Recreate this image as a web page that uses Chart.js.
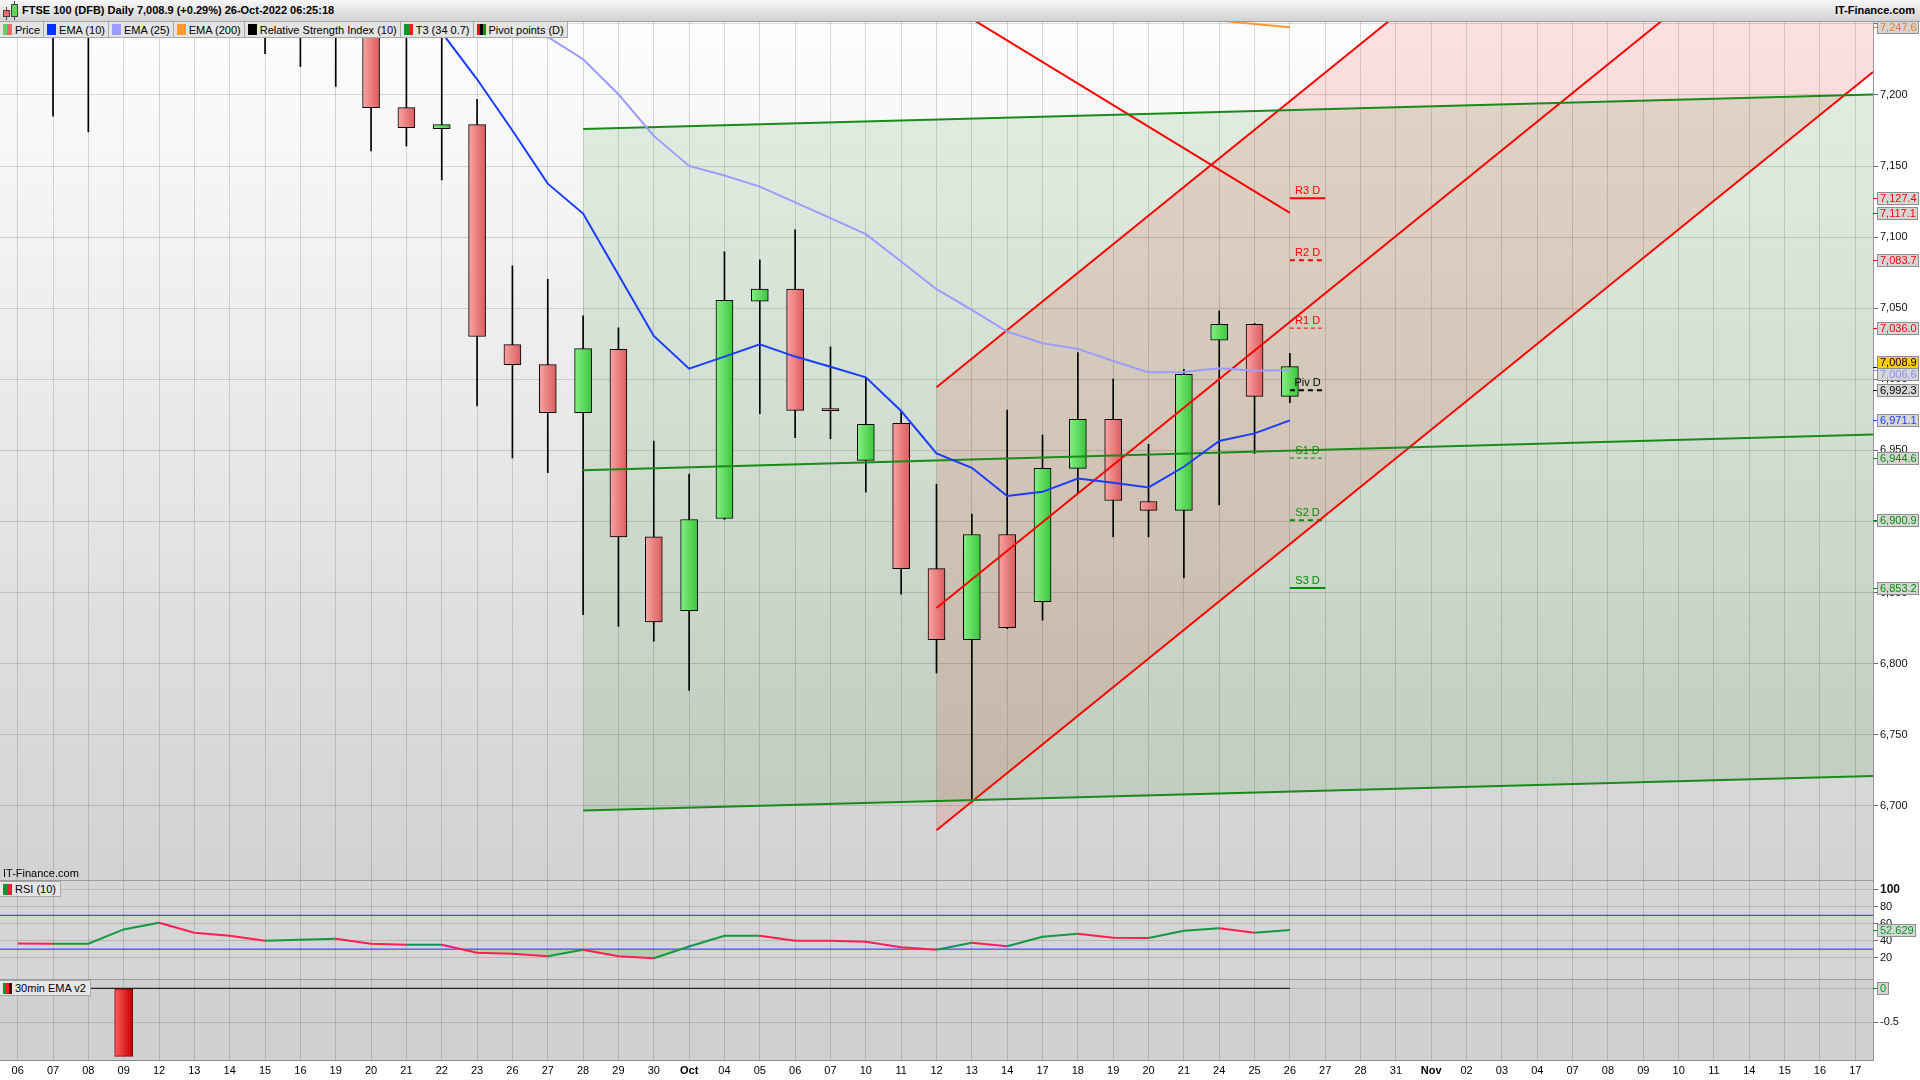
<!DOCTYPE html>
<html lang="en">
<head>
<meta charset="utf-8">
<title>FTSE 100 (DFB) Daily</title>
<script src="https://cdn.jsdelivr.net/npm/chart.js@4.4.1/dist/chart.umd.min.js"></script>
<style>
  html, body { margin: 0; padding: 0; }
  body {
    width: 1920px; height: 1080px; overflow: hidden; position: relative; background: #fff;
    font-family: "Liberation Sans", Arial, sans-serif; font-size: 11px; color: #000;
  }
  canvas { position: absolute; left: 0; }
  #chartMain { top: 22px; }
  #chartRsi { top: 881px; }
  #chartEma { top: 980px; }

  .title-bar {
    position: absolute; left: 0; top: 0; width: 1920px; height: 22px; box-sizing: border-box;
    background: linear-gradient(#f8f8f8, #d2d2d2); border-bottom: 1px solid #9c9c9c; z-index: 3;
  }
  .title-bar .name { position: absolute; left: 22px; top: 4px; font-weight: bold; }
  .title-bar .site { position: absolute; right: 5px; top: 4px; font-weight: bold; }
  .mini { position: absolute; box-sizing: border-box; border: 1px solid #444; }
  .mini-wick { position: absolute; width: 1px; background: #444; }

  .legend-row {
    position: absolute; left: 0; top: 21px; height: 17px; display: flex; box-sizing: border-box;
    background: #e4e4e4; border: 1px solid #a8a8a8; border-left: none; z-index: 3;
  }
  .legend-row .item { display: flex; align-items: center; padding: 0 3px; border-right: 1px solid #a8a8a8; white-space: nowrap; }
  .legend-row .item:last-child { border-right: none; }
  .sw { display: inline-block; width: 9px; height: 11px; margin-right: 3px; }

  .panel-label {
    position: absolute; left: 0; height: 16px; box-sizing: border-box; display: flex; align-items: center;
    background: #e6e6e6; border: 1px solid #a8a8a8; border-left: none; padding: 0 4px 0 3px; z-index: 3;
  }
  .site-note { position: absolute; left: 3px; top: 867px; z-index: 3; }
  .sep { position: absolute; left: 0; width: 1873px; height: 1px; background: #9a9a9a; z-index: 2; }
</style>
</head>
<body>

<div class="title-bar">
  <div class="mini-wick" style="left:6px;top:7px;height:13px"></div>
  <div class="mini" style="left:3px;top:10px;width:7px;height:7px;background:#e86a6a"></div>
  <div class="mini-wick" style="left:14px;top:1px;height:19px"></div>
  <div class="mini" style="left:11px;top:4px;width:7px;height:13px;background:#5ad85a"></div>
  <span class="name">FTSE 100 (DFB) Daily 7,008.9 (+0.29%) 26-Oct-2022 06:25:18</span>
  <span class="site">IT-Finance.com</span>
</div>

<div class="legend-row">
  <span class="item"><span class="sw" style="background:linear-gradient(90deg,#66cc66 50%,#e86a6a 50%)"></span>Price</span>
  <span class="item"><span class="sw" style="background:#0033ff"></span>EMA (10)</span>
  <span class="item"><span class="sw" style="background:#9c9cff"></span>EMA (25)</span>
  <span class="item"><span class="sw" style="background:#ff9933"></span>EMA (200)</span>
  <span class="item"><span class="sw" style="background:#000"></span>Relative Strength Index (10)</span>
  <span class="item"><span class="sw" style="background:linear-gradient(90deg,#0a9a2a 50%,#ff1a1a 50%)"></span>T3 (34 0.7)</span>
  <span class="item"><span class="sw" style="background:linear-gradient(90deg,#ff0000 33%,#000 33%,#000 66%,#009900 66%)"></span>Pivot points (D)</span>
</div>

<canvas id="chartMain" width="1920" height="859"></canvas>
<canvas id="chartRsi" width="1920" height="99"></canvas>
<canvas id="chartEma" width="1920" height="100"></canvas>

<div class="site-note">IT-Finance.com</div>
<div class="sep" style="top:880px"></div>
<div class="sep" style="top:979px"></div>
<div class="panel-label" style="top:881px"><span class="sw" style="background:linear-gradient(90deg,#0a9a2a 50%,#ff1a3c 50%)"></span>RSI (10)</div>
<div class="panel-label" style="top:980px"><span class="sw" style="background:linear-gradient(90deg,#0a9a2a 33%,#ff1a1a 33%,#ff1a1a 66%,#400 66%)"></span>30min EMA v2</div>

<script>
const FONT = '"Liberation Sans", Arial, sans-serif';

// ---- dates on the x axis (one slot per trading day, Sep 06 -> Nov 17) ----
const dayLabels = ['06','07','08','09','12','13','14','15','16','19','20','21','22','23','26','27','28','29','30','Oct',
  '04','05','06','07','10','11','12','13','14','17','18','19','20','21','24','25','26','27','28','31','Nov',
  '02','03','04','07','08','09','10','11','14','15','16','17'];

// ---- daily candles, Sep 06 -> Oct 26 ----
const opens = [7290, 7275, 7262, 7290, 7350, 7470, 7385, 7280, 7285, 7265, 7262,
  7191.1, 7176.3, 7179.1, 7024.4, 7010.4, 6976.6, 7021.1, 6889.2, 6837.4, 6902.1,
  7054.9, 7063.4, 6978.6, 6943.0, 6969.0, 6866.9, 6816.9, 6890.9, 6843.7, 6937.4,
  6971.9, 6914.1, 6907.8, 7027.5, 7038.7, 6988.0];
const highs = [7320, 7300, 7290, 7360, 7480, 7480, 7390, 7300, 7290, 7275, 7270,
  7255, 7256, 7197.0, 7079.8, 7070.4, 7044.6, 7036.2, 6956.6, 6933.4, 7089.7,
  7084.0, 7105.2, 7022.8, 7000.7, 6977.0, 6926.3, 6905.2, 6978.4, 6960.8, 7018.8,
  7000.3, 6954.3, 7007.1, 7048.1, 7039.4, 7018.3];
const lows = [7262, 7185, 7174, 7270, 7340, 7370, 7270, 7229, 7220, 7206, 7160.6,
  7164.1, 7140.2, 6981.3, 6944.7, 6934.4, 6834.5, 6826.3, 6815.8, 6781.3, 6901.4,
  6975.8, 6958.9, 6958.2, 6920.7, 6848.9, 6793.5, 6702.6, 6824.7, 6830.6, 6919.8,
  6889.2, 6889.2, 6860.4, 6911.8, 6947.9, 6983.6];
const closes = [7275, 7262, 7280, 7350, 7470, 7385, 7280, 7285, 7265, 7262, 7191.1,
  7177.0, 7179.1, 7030.1, 7010.4, 6976.6, 7021.6, 6889.2, 6829.4, 6901.4, 7055.6,
  7063.4, 6978.2, 6978.0, 6968.3, 6866.9, 6816.9, 6890.9, 6825.4, 6937.4, 6971.9,
  6914.8, 6907.8, 7003.5, 7038.7, 6988.0, 7008.9];

// ---- moving averages (null = off the top of the chart) ----
const emaTen = [null, null, null, null, null, null, null, null, null, null, null,
  7282, 7244, 7211, 7175, 7137.6, 7116.6, 7073.5, 7030.5, 7007.5, 7016.0,
  7024.7, 7016.0, 7008.9, 7001.4, 6977.7, 6947.9, 6937.8, 6917.9, 6920.9, 6930.3,
  6927.3, 6924.0, 6938.5, 6956.6, 6962.0, 6971.1];
const emaTwentyFive = [null, null, null, null, null, null, null, null, null, null, null,
  null, null, 7274, 7257, 7240.8, 7225.1, 7200.5, 7171.2, 7150.1, 7143.3,
  7135.5, 7124.4, 7113.4, 7102.1, 7082.9, 7063.4, 7048.8, 7033.6, 7025.4, 7021.4,
  7012.9, 7004.9, 7005.2, 7007.8, 7006.1, 7006.6];
const emaTwoHundred = [null, null, null, null, null, null, null, null, null, null, null,
  null, null, null, null, null, null, null, null, null, null,
  null, null, null, null, null, null, null, null, null, null,
  null, null, null, 7252.3, 7249.9, 7247.6];

// ---- drawn trend lines: [day index, price] end points ----
const greenUpper = [[16, 7176.0], [52.5, 7200.3]];
const greenMiddle = [[16, 6936.0], [52.5, 6961.2]];
const greenLower = [[16, 6696.8], [52.5, 6721.0]];
const redUpper = [[26, 6994.4], [52.5, 7527.6]];
const redMiddle = [[26, 6839.2], [52.5, 7372.4]];
const redLower = [[26, 6682.9], [52.5, 7216.1]];
const redFalling = [[27, 7253.5], [36, 7117.1]];

// ---- daily pivot points ----
const pivotNames = ['R3 D', 'R2 D', 'R1 D', 'Piv D', 'S1 D', 'S2 D', 'S3 D'];
const pivotLevels = [7127.4, 7083.7, 7036.0, 6992.3, 6944.6, 6900.9, 6853.2];
const pivotSpan = [36, 37];

// ---- lower panels ----
const rsiValues = [36.6, 36.3, 36.4, 53.3, 61.2, 49.3, 45.8, 39.9, 41.0, 42.2,
  36.3, 35.1, 35.2, 25.7, 24.5, 21.7, 29.2, 21.7, 19.3, 33.1,
  45.8, 45.9, 39.9, 39.8, 38.7, 32.3, 29.2, 37.5, 33.5, 44.6,
  48.2, 43.4, 43.3, 51.7, 54.8, 49.3, 52.629];
const rsiBands = [70, 30];
const emaSignal = [0, 0, 0, -1, 0, 0, 0, 0, 0, 0, 0, 0, 0, 0, 0, 0, 0, 0, 0, 0,
  0, 0, 0, 0, 0, 0, 0, 0, 0, 0, 0, 0, 0, 0, 0, 0, 0];

// ---- axis ticks ----
const priceTicks = [6700, 6750, 6800, 6850, 6900, 6950, 7000, 7050, 7100, 7150, 7200, 7250];
const rsiTicks = [20, 40, 60, 80, 100];
const signalTicks = [0, -0.5];

const X_MIN = -0.5, X_MAX = 52.5;
const GRID = 'rgba(0,0,0,0.14)';
const AXIS_W = 47;

const toPts = arr => arr.map((v, i) => ({ x: i, y: v }));
const toSeg = pairs => pairs.map(([x, y]) => ({ x, y }));
const fmt1 = v => v.toLocaleString('en-US', { minimumFractionDigits: 1, maximumFractionDigits: 1 });

// horizontal gradient for a bar centred on its day slot
function barGradient(c, light, dark, half) {
  const chart = c.chart;
  if (!c.raw || !chart.scales || !chart.scales.x) return dark;
  const px = chart.scales.x.getPixelForValue(c.raw.x);
  if (!Number.isFinite(px)) return dark;
  const g = chart.ctx.createLinearGradient(px - half, 0, px + half, 0);
  g.addColorStop(0, light);
  g.addColorStop(1, dark);
  return g;
}

// spreads overlapping tags around the mean of their cluster
function spreadTags(items, gap) {
  items.sort((a, b) => a.y - b.y);
  const groups = [];
  items.forEach(it => {
    groups.push({ list: [it], center: it.y });
    while (groups.length > 1) {
      const b = groups[groups.length - 1], a = groups[groups.length - 2];
      const aBottom = a.center + (a.list.length - 1) * gap / 2;
      const bTop = b.center - (b.list.length - 1) * gap / 2;
      if (bTop - aBottom >= gap) break;
      const list = a.list.concat(b.list);
      const center = list.reduce((s, t) => s + t.y, 0) / list.length;
      groups.splice(groups.length - 2, 2, { list, center });
    }
  });
  groups.forEach(g => g.list.forEach((t, k) => { t.ty = g.center + (k - (g.list.length - 1) / 2) * gap; }));
}

const panelBackground = fill => ({
  id: 'panelBackground',
  beforeDraw(chart) {
    const { ctx, chartArea: a } = chart;
    if (!a) return;
    ctx.save();
    if (Array.isArray(fill)) {
      const g = ctx.createLinearGradient(0, a.top, 0, a.bottom);
      g.addColorStop(0, fill[0]);
      g.addColorStop(1, fill[1]);
      ctx.fillStyle = g;
    } else {
      ctx.fillStyle = fill;
    }
    ctx.fillRect(a.left, a.top, a.right - a.left, a.bottom - a.top);
    ctx.restore();
  }
});

const valueTags = (scaleId, tags) => ({
  id: 'valueTags',
  afterDraw(chart) {
    const { ctx, chartArea } = chart;
    const sc = chart.scales[scaleId];
    const items = tags.map(t => Object.assign({}, t, { y: sc.getPixelForValue(t.value) }));
    spreadTags(items, 12);
    ctx.save();
    ctx.font = '11px ' + FONT;
    ctx.textBaseline = 'middle';
    items.forEach(t => {
      const x0 = chartArea.right + 4;
      const yt = Math.round(t.y) + 0.5;
      ctx.strokeStyle = t.color;
      ctx.lineWidth = 1;
      ctx.beginPath(); ctx.moveTo(chartArea.right, yt); ctx.lineTo(x0, yt); ctx.stroke();
      const w = Math.ceil(ctx.measureText(t.text).width) + 4;
      const top = Math.round(t.ty - 6) + 0.5;
      ctx.fillStyle = t.bg || '#d6d6d6';
      ctx.fillRect(x0 + 0.5, top, w, 12);
      ctx.strokeStyle = '#8e8e8e';
      ctx.strokeRect(x0 + 0.5, top, w, 12);
      ctx.fillStyle = t.color;
      ctx.fillText(t.text, x0 + 3, top + 6.5);
    });
    ctx.restore();
  }
});

const pivotText = {
  id: 'pivotText',
  afterDatasetsDraw(chart) {
    const { ctx, scales } = chart;
    const cx = scales.x.getPixelForValue((pivotSpan[0] + pivotSpan[1]) / 2);
    ctx.save();
    ctx.font = '11px ' + FONT;
    ctx.textAlign = 'center';
    ctx.textBaseline = 'bottom';
    pivotLevels.forEach((lvl, k) => {
      ctx.fillStyle = chartModule.colors.pivot[k];
      ctx.fillText(pivotNames[k], cx, scales.y.getPixelForValue(lvl) - 2);
    });
    ctx.restore();
  }
};

const chartModule = {
  chartInstances: { main: null, rsi: null, signal: null },

  colors: {
    upLight: '#84f084', upDark: '#3cc63c',
    downLight: '#f8a4a4', downDark: '#dc5c5c',
    emaTen: '#1a3cff', emaTwentyFive: '#9c9cff', emaTwoHundred: '#ff9933',
    trendGreen: '#1a8a1a', trendRed: '#ff0000',
    pivot: ['#ff0000', '#ff0000', '#ff0000', '#000000', '#008a00', '#008a00', '#008a00'],
    pivotWidth: [2, 2, 1, 2, 1, 2, 2],
    pivotDash: [[], [5, 4], [4, 3], [5, 4], [4, 3], [5, 4], []],
    rsiUp: '#139a3c', rsiDown: '#ff1f4f'
  },

  init: function () {
    Chart.defaults.font.family = FONT;
    Chart.defaults.font.size = 11;
    Chart.defaults.color = '#000';
    this.renderMain();
    this.renderRsi();
    this.renderSignal();
  },

  // shared day axis; offset off so bars do not pad the ends
  dayAxis: function (showLabels) {
    return {
      type: 'linear', min: X_MIN, max: X_MAX, offset: false,
      afterBuildTicks: s => { s.ticks = dayLabels.map((_, i) => ({ value: i })); },
      grid: { color: GRID, drawTicks: false, offset: false },
      border: { display: showLabels, color: '#8a8a8a' },
      ticks: showLabels ? {
        autoSkip: false, maxRotation: 0, padding: 4, color: '#000',
        font: c => ({ size: 11, family: FONT, weight: /[A-Za-z]/.test(dayLabels[c.tick ? c.tick.value : 0]) ? 'bold' : 'normal' }),
        callback: v => dayLabels[v]
      } : { display: false },
      afterFit: s => { s.height = showLabels ? 20 : 0; s.paddingLeft = 0; s.paddingRight = 0; }
    };
  },

  valueAxis: function (min, max, ticks, callback, font) {
    return {
      position: 'right', min, max,
      afterBuildTicks: s => { s.ticks = ticks.map(v => ({ value: v })); },
      ticks: { color: '#111', padding: 2, callback, font: font || { size: 11, family: FONT } },
      grid: { color: GRID, tickLength: 5, tickColor: '#6a6a6a' },
      border: { color: '#999' },
      afterFit: s => { s.width = AXIS_W; s.paddingTop = 0; s.paddingBottom = 0; }
    };
  },

  baseOptions: function (yAxis, showDays) {
    return {
      responsive: false, animation: false, devicePixelRatio: 1, events: [],
      layout: { padding: 0 },
      plugins: { legend: { display: false }, tooltip: { enabled: false }, filler: { drawTime: 'beforeDatasetsDraw' } },
      elements: { point: { radius: 0 }, line: { tension: 0 } },
      datasets: { line: { clip: 0 }, bar: { clip: 0 } },
      scales: { x: this.dayAxis(showDays), y: yAxis }
    };
  },

  // Price panel: candles, averages, trend channels and pivots
  renderMain: function () {
    const c = this.colors;
    const line = (data, color, width, extra) => Object.assign({ type: 'line', data, borderColor: color, borderWidth: width, fill: false, order: 1 }, extra || {});

    const datasets = [
      line(toPts(emaTen), c.emaTen, 2, { order: 0 }),
      line(toPts(emaTwentyFive), c.emaTwentyFive, 2, { order: 0 }),
      line(toPts(emaTwoHundred), c.emaTwoHundred, 2, { order: 0 }),
      line(toSeg(greenUpper), c.trendGreen, 2, { fill: '+1', backgroundColor: 'rgba(0,128,0,0.1)' }),
      line(toSeg(greenLower), c.trendGreen, 2),
      line(toSeg(greenMiddle), c.trendGreen, 2),
      line(toSeg(redUpper), c.trendRed, 2, { fill: '+1', backgroundColor: 'rgba(255,0,0,0.11)' }),
      line(toSeg(redLower), c.trendRed, 2),
      line(toSeg(redMiddle), c.trendRed, 2),
      line(toSeg(redFalling), c.trendRed, 2)
    ];

    pivotLevels.forEach((lvl, k) => {
      datasets.push(line(pivotSpan.map(x => ({ x, y: lvl })), c.pivot[k], c.pivotWidth[k], { borderDash: c.pivotDash[k] }));
    });

    datasets.push({
      type: 'bar', order: 5, grouped: false, barThickness: 17, minBarLength: 2,
      data: opens.map((o, i) => ({ x: i, y: [o, closes[i]] })),
      backgroundColor: ctx => closes[ctx.dataIndex] >= opens[ctx.dataIndex]
        ? barGradient(ctx, c.upLight, c.upDark, 8.5)
        : barGradient(ctx, c.downLight, c.downDark, 8.5),
      borderColor: '#000', borderWidth: 1, borderSkipped: false
    });
    datasets.push({
      type: 'bar', order: 6, grouped: false, barThickness: 1,
      data: lows.map((l, i) => ({ x: i, y: [l, highs[i]] })),
      backgroundColor: '#000', borderWidth: 0
    });

    const last = opens.length - 1;
    const gray = '#d6d6d6';
    const tags = [
      { value: emaTwoHundred[last], text: fmt1(emaTwoHundred[last]), color: '#f07a12', bg: gray },
      { value: redFalling[1][1], text: fmt1(redFalling[1][1]), color: '#ff0000', bg: gray },
      { value: closes[last], text: fmt1(closes[last]), color: '#000', bg: '#ffcc00' },
      { value: emaTwentyFive[last], text: fmt1(emaTwentyFive[last]), color: '#8a8aff', bg: gray },
      { value: emaTen[last], text: fmt1(emaTen[last]), color: '#1a3cff', bg: gray }
    ].concat(pivotLevels.map((v, k) => ({ value: v, text: fmt1(v), color: k === 3 ? '#000' : (k < 3 ? '#ff0000' : '#009000'), bg: gray })));

    const yAxis = this.valueAxis(6647.2, 7251.3, priceTicks, v => v > 7200 ? '' : v.toLocaleString('en-US'));

    this.chartInstances.main = new Chart(document.getElementById('chartMain'), {
      type: 'line',
      data: { datasets },
      options: this.baseOptions(yAxis, false),
      plugins: [panelBackground(['#fdfdfd', '#d2d2d2']), pivotText, valueTags('y', tags)]
    });
  },

  // RSI (10) panel
  renderRsi: function () {
    const c = this.colors;
    const datasets = [{
      type: 'line', data: toPts(rsiValues), borderWidth: 2, order: 0,
      borderColor: c.rsiUp,
      segment: { borderColor: s => s.p1.parsed.y >= s.p0.parsed.y ? c.rsiUp : c.rsiDown },
      fill: { target: { value: 30 }, above: 'rgba(0,0,0,0)', below: 'rgba(0,150,0,0.13)' }
    }].concat(rsiBands.map(v => ({
      type: 'line', data: [{ x: X_MIN, y: v }, { x: X_MAX, y: v }], borderColor: '#2828ff', borderWidth: 1, order: 1
    })));

    const last = rsiValues[rsiValues.length - 1];
    const yAxis = this.valueAxis(-6.5, 110.6, rsiTicks, v => String(v),
      ctx => ({ size: ctx.tick && ctx.tick.value === 100 ? 12 : 11, weight: ctx.tick && ctx.tick.value === 100 ? 'bold' : 'normal', family: FONT }));

    this.chartInstances.rsi = new Chart(document.getElementById('chartRsi'), {
      type: 'line',
      data: { datasets },
      options: this.baseOptions(yAxis, false),
      plugins: [panelBackground('#d5d5d5'), valueTags('y', [{ value: last, text: last.toFixed(3), color: '#009a20', bg: '#d6d6d6' }])]
    });
  },

  // 30min EMA v2 panel, carries the date axis
  renderSignal: function () {
    const datasets = [
      {
        type: 'bar', grouped: false, barThickness: 18, order: 1,
        data: toPts(emaSignal).filter(p => p.y !== 0),
        backgroundColor: ctx => barGradient(ctx, '#ff5a5a', '#c00000', 9),
        borderColor: '#8a0000', borderWidth: 1, borderSkipped: false
      },
      { type: 'line', data: emaSignal.map((_, i) => ({ x: i, y: 0 })), borderColor: '#000', borderWidth: 1, order: 0 }
    ];

    const last = emaSignal[emaSignal.length - 1];
    const yAxis = this.valueAxis(-1.054, 0.122, signalTicks, v => String(v));

    this.chartInstances.signal = new Chart(document.getElementById('chartEma'), {
      type: 'line',
      data: { datasets },
      options: this.baseOptions(yAxis, true),
      plugins: [panelBackground('#d0d0d0'), valueTags('y', [{ value: last, text: String(last), color: '#009a20', bg: '#d6d6d6' }])]
    });
  }
};

document.addEventListener('DOMContentLoaded', () => chartModule.init());
</script>
</body>
</html>
